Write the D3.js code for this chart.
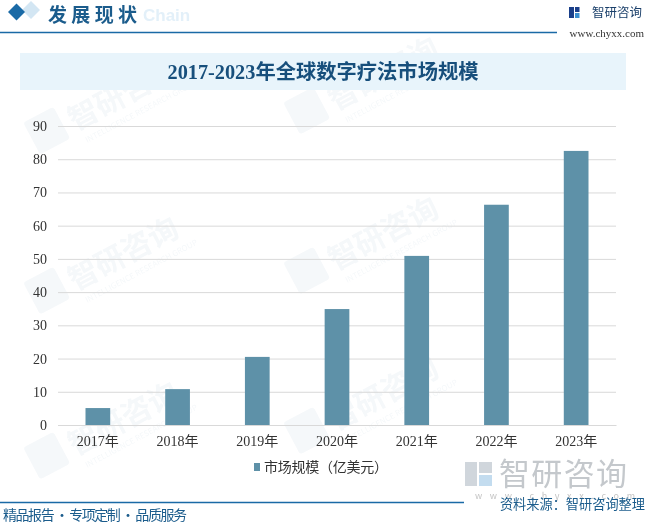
<!DOCTYPE html>
<html><head><meta charset="utf-8">
<script src="https://cdn.jsdelivr.net/npm/d3@7/dist/d3.min.js"></script>
<style>body{margin:0;background:#fff;}svg{display:block;}</style>
</head><body>
<svg id="c" width="647" height="524"></svg>
<script>
const categories = ["2017年","2018年","2019年","2020年","2021年","2022年","2023年"];
const values = [5.1, 10.8, 20.5, 34.9, 50.9, 66.3, 82.5];
const yTicks = [0,10,20,30,40,50,60,70,80,90];
const seriesName = "市场规模（亿美元）";
const title = "2017-2023年全球数字疗法市场规模";

const svg = d3.select("#c");
const serif = "'Liberation Serif','Noto Sans CJK SC',serif";
const sans = "'Noto Sans CJK SC','Noto Sans',sans-serif";
const dark = "#1b5c8c";

// watermarks
const wm = svg.append("g").attr("opacity",0.045).attr("fill","#1b5c8c").attr("font-family",sans);
[[40,150],[300,130],[40,310],[300,290],[40,475],[300,450]].forEach(([x,y])=>{
  const g = wm.append("g").attr("transform",`translate(${x},${y}) rotate(-28)`);
  g.append("text").attr("x",40).attr("font-size",30).attr("font-weight","bold").text("智研咨询");
  g.append("text").attr("x",45).attr("y",16).attr("font-size",8).text("INTELLIGENCE RESEARCH GROUP");
  g.append("rect").attr("x",-2).attr("y",-32).attr("width",34).attr("height",36).attr("rx",3);
});

// header
svg.append("text").attr("x",143).attr("y",21).attr("font-family","'Liberation Sans',sans-serif").attr("font-weight","bold")
  .attr("font-size",17).attr("fill","#e3f0f9").text("Chain");
svg.append("path").attr("d","M22,10 L31,1 L40,10 L31,19Z").attr("fill","#d3e6f3");
svg.append("path").attr("d","M8,12 L16.5,3.5 L25,12 L16.5,20.5Z").attr("fill","#1a6aa6");
svg.append("text").attr("x",48).attr("y",21.5).attr("font-family",sans).attr("font-weight","bold")
  .attr("font-size",19).attr("textLength",89).attr("fill",dark).text("发展现状");
svg.append("line").attr("x1",0).attr("x2",557).attr("y1",32.5).attr("y2",32.5).attr("stroke","#1a6aa6").attr("stroke-width",1.3);
// logo top right
const lg = svg.append("g");
lg.append("rect").attr("x",569).attr("y",7).attr("width",5).attr("height",11).attr("fill","#1a3f8a");
lg.append("rect").attr("x",575).attr("y",7).attr("width",4.5).attr("height",5).attr("fill","#1a3f8a");
lg.append("rect").attr("x",575).attr("y",13).attr("width",4.5).attr("height",5).attr("fill","#3a8fd0");
svg.append("text").attr("x",592).attr("y",17).attr("font-family",sans).attr("font-size",12.5).attr("fill","#1a3f6a").text("智研咨询");
svg.append("text").attr("x",644).attr("y",37).attr("text-anchor","end").attr("font-family",serif).attr("font-size",11).attr("fill","#333").text("www.chyxx.com");

// title band
svg.append("rect").attr("x",20).attr("y",53).attr("width",606).attr("height",37).attr("fill","#e8f4fb");
svg.append("text").attr("x",323).attr("y",79).attr("text-anchor","middle").attr("font-family",serif).attr("font-weight","bold")
  .attr("font-size",20.3).attr("fill","#174f7c").text(title);

// chart
const m = {l:58, r:616, t:126, b:425};
const x = d3.scaleBand().domain(categories).range([m.l,m.r]).paddingInner(0.69).paddingOuter(0.345);
const y = d3.scaleLinear().domain([0,90]).range([m.b,m.t]);

const yAxis = svg.append("g").attr("transform",`translate(${m.l},0)`)
  .call(d3.axisLeft(y).tickValues(yTicks).tickSize(-(m.r-m.l)).tickPadding(11));
yAxis.select(".domain").remove();
yAxis.selectAll(".tick line").attr("stroke","#d9d9d9").attr("stroke-width",1);
yAxis.selectAll(".tick text").attr("font-family",serif).attr("font-size",14).attr("fill","#333");

svg.append("g").selectAll("rect").data(values).join("rect")
  .attr("x",(d,i)=>x(categories[i])).attr("width",x.bandwidth())
  .attr("y",d=>y(d)).attr("height",d=>y(0)-y(d)).attr("fill","#5e91a8");

const xAxis = svg.append("g").attr("transform",`translate(0,${m.b})`).call(d3.axisBottom(x).tickSize(0).tickPadding(11));
xAxis.select(".domain").attr("stroke","#d9d9d9");
xAxis.selectAll(".tick text").attr("font-family",serif).attr("font-size",14).attr("fill","#333");

// legend
svg.append("rect").attr("x",254).attr("y",463).attr("width",6).attr("height",8).attr("fill","#5e91a8");
svg.append("text").attr("x",264).attr("y",472).attr("font-family",sans).attr("font-size",14)
  .attr("textLength",124).attr("fill","#333").text(seriesName);

// bottom watermark logo
const bl = svg.append("g").attr("opacity",0.4);
bl.append("rect").attr("x",465).attr("y",462).attr("width",12).attr("height",24).attr("fill","#8a9aa8");
bl.append("rect").attr("x",479).attr("y",462).attr("width",13).attr("height",11).attr("fill","#8a9aa8");
bl.append("rect").attr("x",479).attr("y",475).attr("width",13).attr("height",11).attr("fill","#6aa8d8");
svg.append("text").attr("x",499).attr("y",485).attr("font-family",sans).attr("font-size",31).attr("textLength",128).attr("fill","#c4c8cc").text("智研咨询");
svg.append("text").attr("x",475).attr("y",499).attr("font-family",sans).attr("font-size",9).attr("textLength",160).attr("fill","#c4c4c4").text("w w w . c h y x x . c o m");

svg.append("line").attr("x1",0).attr("x2",464).attr("y1",502.5).attr("y2",502.5).attr("stroke","#1a6aa6").attr("stroke-width",1.3);
svg.append("text").attr("x",645).attr("y",509).attr("text-anchor","end").attr("font-family",sans).attr("font-size",13.2).attr("fill","#1b5c8c").text("资料来源：智研咨询整理");
svg.append("text").attr("x",3).attr("y",520).attr("font-family",sans).attr("font-size",14).attr("textLength",184).attr("fill","#1b5c8c").text("精品报告 · 专项定制 · 品质服务");
</script>
</body></html>
